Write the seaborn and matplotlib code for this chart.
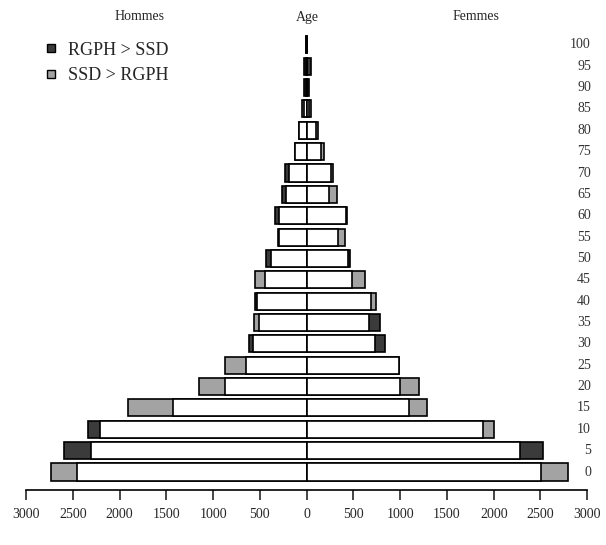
import numpy as np
import pandas as pd
import seaborn as sns
import matplotlib.pyplot as plt
from matplotlib.lines import Line2D

# age groups (lower bound)
ages = [0, 5, 10, 15, 20, 25, 30, 35, 40, 45, 50, 55, 60, 65, 70, 75, 80, 85, 90, 95, 100]

# men, two sources
hommes_rgph = [2460, 2590, 2340, 1430, 870, 645, 615, 505, 552, 440, 437, 311, 336, 264, 230, 125, 80, 30, 28, 30, 4]
hommes_ssd = [2730, 2310, 2210, 1910, 1155, 870, 570, 565, 530, 552, 384, 295, 292, 221, 190, 122, 78, 50, 5, 5, 3]

# women, two sources
femmes_rgph = [2505, 2530, 1885, 1095, 1000, 990, 836, 780, 690, 485, 463, 340, 427, 240, 262, 150, 100, 30, 28, 45, 4]
femmes_ssd = [2790, 2280, 2000, 1285, 1200, 985, 735, 670, 737, 626, 441, 413, 422, 322, 282, 190, 118, 48, 5, 8, 3]

x_ticks = [-3000, -2500, -2000, -1500, -1000, -500, 0, 500, 1000, 1500, 2000, 2500, 3000]

dark = "#3b3b3b"
light = "#a3a3a3"


def build(rgph, ssd, sign):
    rgph = np.array(rgph)
    ssd = np.array(ssd)
    return pd.DataFrame({
        "age": ages,
        "inner": sign * np.minimum(rgph, ssd),
        "outer": sign * np.maximum(rgph, ssd),
        "kind": np.where(rgph > ssd, "RGPH > SSD", "SSD > RGPH"),
    })


df_h = build(hommes_rgph, hommes_ssd, -1)
df_f = build(femmes_rgph, femmes_ssd, 1)

sns.set_style("white")
plt.rcParams["font.family"] = ["Liberation Serif", "DejaVu Serif"]

fig = plt.figure(figsize=(6.06, 5.45), dpi=100)
ax = fig.add_axes([0.043, 0.101, 0.926, 0.848])

palette = {"RGPH > SSD": dark, "SSD > RGPH": light}
for df in (df_h, df_f):
    # full bar in the colour of the larger source, then the common part in white
    sns.barplot(data=df, x="outer", y="age", hue="kind", palette=palette, orient="h",
                native_scale=True, dodge=False, width=0.8, edgecolor="black",
                linewidth=1.2, legend=False, ax=ax)
    sns.barplot(data=df, x="inner", y="age", orient="h", native_scale=True,
                width=0.8, color="white", edgecolor="black", linewidth=1.2, ax=ax)

ax.set_xlim(-3000, 3000)
ax.set_ylim(-4.2, 104)
ax.set_xlabel("")
ax.set_ylabel("")
ax.set_yticks([])
ax.set_xticks(x_ticks)
ax.set_xticklabels([str(abs(t)) for t in x_ticks], fontsize=10)
ax.tick_params(axis="x", direction="out", length=7, width=1.2, bottom=True, pad=6)

for side in ["top", "left", "right"]:
    ax.spines[side].set_visible(False)
ax.spines["bottom"].set_linewidth(1.2)
ax.spines["bottom"].set_color("black")

for a in ages:
    ax.text(3040, a, str(a), ha="right", va="center", fontsize=10, color="#333333")

fig.text(140 / 606, 1 - 17 / 545, "Hommes", ha="center", va="center", fontsize=10)
fig.text(307 / 606, 1 - 17 / 545, "Age", ha="center", va="center", fontsize=10)
fig.text(476 / 606, 1 - 17 / 545, "Femmes", ha="center", va="center", fontsize=10)

handles = [
    Line2D([], [], marker="s", linestyle="none", markersize=6, markerfacecolor=dark,
           markeredgecolor="black", label="RGPH > SSD"),
    Line2D([], [], marker="s", linestyle="none", markersize=6, markerfacecolor=light,
           markeredgecolor="black", label="SSD > RGPH"),
]
ax.legend(handles=handles, loc="upper left", bbox_to_anchor=(0.0, 1.005), frameon=False,
          fontsize=13, handletextpad=0.4, labelspacing=0.45, handlelength=1.0)

fig.savefig("out.png", dpi=100)
